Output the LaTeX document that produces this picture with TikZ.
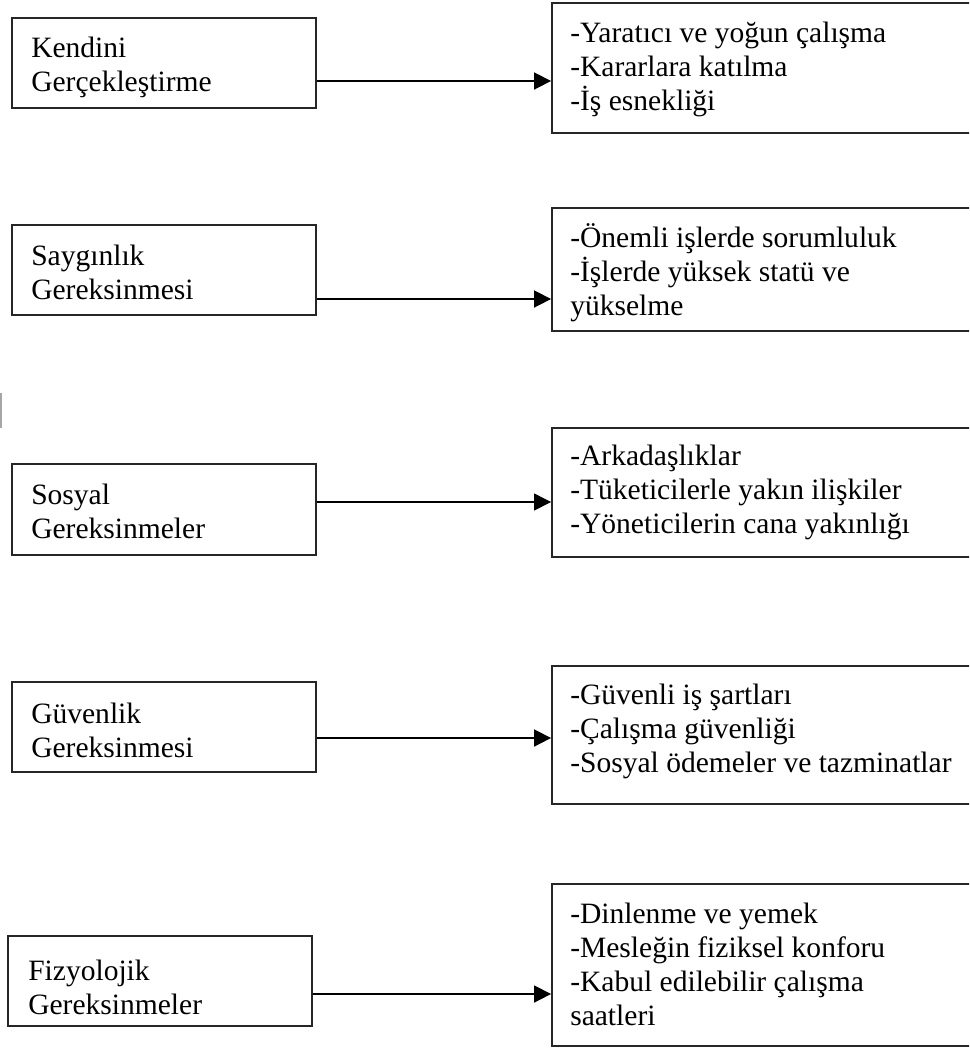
\documentclass[tikz,border=0pt]{standalone}
\usepackage{fontspec}
\setmainfont{Liberation Serif}
\usetikzlibrary{arrows.meta,fit}
\begin{document}
\begin{tikzpicture}[x=0.025cm,y=-0.025cm,
  box/.style={draw=black!85, line width=1.3pt, inner sep=0pt},
  txt/.style={anchor=base west, inner sep=0pt, font=\fontsize{21pt}{24.2pt}\selectfont},
  arr/.style={line width=1.2pt, -{Triangle[length=12pt,width=12pt]}}]
\useasboundingbox (0,0) rectangle (969,1048);
\clip (0,0) rectangle (969,1048);
% left boxes
\node[box, fit={(12,18)(316,108)}] (l1) {};
\node[box, fit={(12,225)(316,315)}] (l2) {};
\node[box, fit={(12,464)(316,555)}] (l3) {};
\node[box, fit={(12,682)(316,772)}] (l4) {};
\node[box, fit={(8,936)(312,1026)}] (l5) {};
% right boxes
\node[box, fit={(552,3)(985,133)}] (r1) {};
\node[box, fit={(552,208)(985,331)}] (r2) {};
\node[box, fit={(552,428)(985,557)}] (r3) {};
\node[box, fit={(552,666)(985,804)}] (r4) {};
\node[box, fit={(552,884)(985,1046)}] (r5) {};
% left texts
\node[txt] (lt1) at (31,57) {\parbox[t]{8cm}{Kendini\\Gerçekleştirme}};
\node[txt] (lt2) at (31,265) {\parbox[t]{8cm}{Saygınlık\\Gereksinmesi}};
\node[txt] (lt3) at (31,504) {\parbox[t]{8cm}{Sosyal\\Gereksinmeler}};
\node[txt] (lt4) at (31,723) {\parbox[t]{8cm}{Güvenlik\\Gereksinmesi}};
\node[txt] (lt5) at (28,980) {\parbox[t]{8cm}{Fizyolojik\\Gereksinmeler}};
% right texts
\node[txt] (rt1) at (570,42) {\parbox[t]{12cm}{-Yaratıcı ve yoğun çalışma\\-Kararlara katılma\\-İş esnekliği}};
\node[txt] (rt2) at (570,247) {\parbox[t]{12cm}{-Önemli işlerde sorumluluk\\-İşlerde yüksek statü ve\\yükselme}};
\node[txt] (rt3) at (570,465) {\parbox[t]{12cm}{-Arkadaşlıklar\\-Tüketicilerle yakın ilişkiler\\-Yöneticilerin cana yakınlığı}};
\node[txt] (rt4) at (570,704) {\parbox[t]{12cm}{-Güvenli iş şartları\\-Çalışma güvenliği\\-Sosyal ödemeler ve tazminatlar}};
\node[txt] (rt5) at (570,923) {\parbox[t]{12cm}{-Dinlenme ve yemek\\-Mesleğin fiziksel konforu\\-Kabul edilebilir çalışma\\saatleri}};
% arrows
\coordinate (a1) at (0,81);
\coordinate (a2) at (0,299);
\coordinate (a3) at (0,502);
\coordinate (a4) at (0,738);
\coordinate (a5) at (0,994);
\draw[arr] (l1.east |- a1) -- (r1.west |- a1);
\draw[arr] (l2.east |- a2) -- (r2.west |- a2);
\draw[arr, line width=0.8pt] (l3.east |- a3) -- (r3.west |- a3);
\draw[arr] (l4.east |- a4) -- (r4.west |- a4);
\draw[arr] (l5.east |- a5) -- (r5.west |- a5);
% faint scan mark at the left edge
\coordinate (m1) at (1,393);
\coordinate (m2) at (1,428);
\draw[black!35, line width=1pt] (m1) -- (m2);
\end{tikzpicture}
\end{document}
